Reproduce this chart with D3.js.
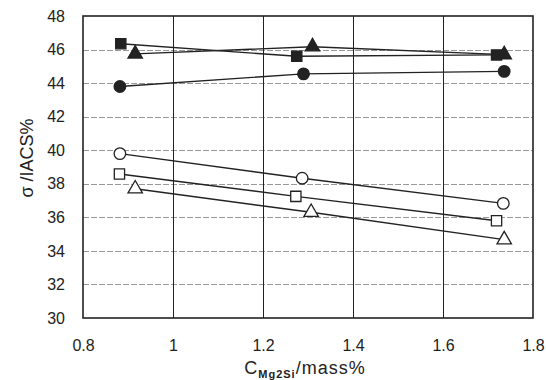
<!DOCTYPE html>
<html>
<head>
<meta charset="utf-8">
<script src="https://cdn.jsdelivr.net/npm/d3@7"></script>
<style>
  body { margin: 0; background: #fff; }
  text { font-family: "Liberation Sans", Arial, sans-serif; fill: #222; }
</style>
</head>
<body>
<svg id="chart" width="546" height="380"></svg>
<script>
'use strict';

// x positions (C Mg2Si, mass%) and conductivity values (%IACS)
var filledSquareX = [0.884, 1.275, 1.719];
var filledSquareY = [46.35, 45.6, 45.68];
var filledTriangleX = [0.916, 1.31, 1.736];
var filledTriangleY = [45.74, 46.17, 45.7];
var filledCircleX = [0.882, 1.29, 1.736];
var filledCircleY = [43.8, 44.55, 44.7];
var openCircleX = [0.882, 1.287, 1.734];
var openCircleY = [39.8, 38.33, 36.83];
var openSquareX = [0.881, 1.273, 1.719];
var openSquareY = [38.58, 37.25, 35.8];
var openTriangleX = [0.916, 1.307, 1.736];
var openTriangleY = [37.7, 36.3, 34.67];

var xTicks = [0.8, 1, 1.2, 1.4, 1.6, 1.8];
var yTicks = [30, 32, 34, 36, 38, 40, 42, 44, 46, 48];

var series = [
    { xs: filledSquareX, ys: filledSquareY, shape: d3.symbolSquare, fill: '#222' },
    { xs: filledTriangleX, ys: filledTriangleY, shape: d3.symbolTriangle, fill: '#222' },
    { xs: filledCircleX, ys: filledCircleY, shape: d3.symbolCircle, fill: '#222' },
    { xs: openCircleX, ys: openCircleY, shape: d3.symbolCircle, fill: '#fff' },
    { xs: openSquareX, ys: openSquareY, shape: d3.symbolSquare, fill: '#fff' },
    { xs: openTriangleX, ys: openTriangleY, shape: d3.symbolTriangle, fill: '#fff' }
];

var plotL = 83, plotR = 533, plotT = 16, plotB = 318;
var svg = d3.select('#chart');

var x = d3.scaleLinear().domain([0.8, 1.8]).range([plotL, plotR]);
var y = d3.scaleLinear().domain([30, 48]).range([plotB, plotT]);

// horizontal grid (light, dashed)
svg.append('g')
    .selectAll('line')
    .data(yTicks.slice(1, -1))
    .enter().append('line')
    .attr('x1', plotL).attr('x2', plotR)
    .attr('y1', function(d){ return Math.round(y(d)) + 0.5; })
    .attr('y2', function(d){ return Math.round(y(d)) + 0.5; })
    .attr('stroke', '#999')
    .attr('stroke-width', 1)
    .attr('stroke-dasharray', '6,2');

// vertical grid (solid)
svg.append('g')
    .selectAll('line')
    .data(xTicks.slice(1, -1))
    .enter().append('line')
    .attr('x1', function(d){ return Math.round(x(d)) + 0.5; })
    .attr('x2', function(d){ return Math.round(x(d)) + 0.5; })
    .attr('y1', plotT).attr('y2', plotB)
    .attr('stroke', '#222')
    .attr('stroke-width', 1);

// frame
svg.append('rect')
    .attr('x', plotL).attr('y', plotT)
    .attr('width', plotR - plotL).attr('height', plotB - plotT)
    .attr('fill', 'none')
    .attr('stroke', '#222')
    .attr('stroke-width', 1.6);

// axes (labels only)
var xAxis = d3.axisBottom(x).tickValues(xTicks).tickSize(0).tickPadding(22)
    .tickFormat(function(d){ return String(d); });
svg.append('g')
    .attr('transform', 'translate(0,' + plotB + ')')
    .call(xAxis)
    .call(function(g){ g.select('.domain').remove(); })
    .selectAll('text')
    .style('font-size', '16px');

var yAxis = d3.axisLeft(y).tickValues(yTicks).tickSize(0).tickPadding(18);
svg.append('g')
    .attr('transform', 'translate(' + plotL + ',0)')
    .call(yAxis)
    .call(function(g){ g.select('.domain').remove(); })
    .selectAll('text')
    .style('font-size', '16px');

// lines and markers
var line = d3.line()
    .x(function(d){ return x(d[0]); })
    .y(function(d){ return y(d[1]); });

series.forEach(function(s){
    var pts = s.xs.map(function(v, i){ return [v, s.ys[i]]; });
    svg.append('path')
        .datum(pts)
        .attr('d', line)
        .attr('fill', 'none')
        .attr('stroke', '#222')
        .attr('stroke-width', 1.4);
    svg.append('g')
        .selectAll('path')
        .data(pts)
        .enter().append('path')
        .attr('transform', function(d){ return 'translate(' + x(d[0]) + ',' + y(d[1]) + ')'; })
        .attr('d', d3.symbol().type(s.shape).size(s.shape === d3.symbolTriangle ? 90 : 105))
        .attr('fill', s.fill)
        .attr('stroke', '#222')
        .attr('stroke-width', 1.3);
});

// axis titles
var xt = svg.append('text')
    .attr('x', 305).attr('y', 374)
    .attr('text-anchor', 'middle')
    .style('font-size', '18px')
    .style('letter-spacing', '1px');
xt.append('tspan').text('C');
xt.append('tspan').attr('dy', 4).style('font-size', '11px').style('font-weight', 'bold').text('Mg2Si');
xt.append('tspan').attr('dy', -4).text('/mass%');

svg.append('text')
    .attr('transform', 'translate(33,158) rotate(-90)')
    .attr('text-anchor', 'middle')
    .style('font-size', '18px')
    .text('σ /IACS%');
</script>
</body>
</html>
